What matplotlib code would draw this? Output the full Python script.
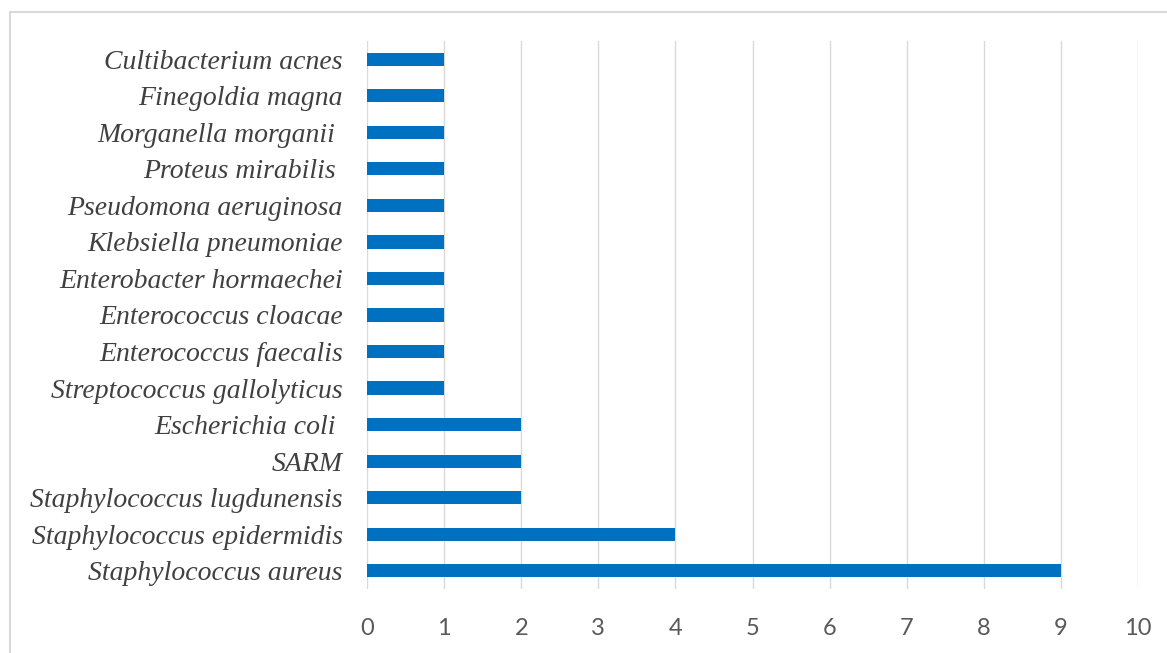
import matplotlib.pyplot as plt
from matplotlib.patches import Rectangle

# microorganisms isolated, bottom to top
species = ["Staphylococcus aureus", "Staphylococcus epidermidis", "Staphylococcus lugdunensis",
           "SARM", "Escherichia coli ", "Streptococcus gallolyticus", "Enterococcus faecalis",
           "Enterococcus cloacae", "Enterobacter hormaechei", "Klebsiella pneumoniae",
           "Pseudomona aeruginosa", "Proteus mirabilis ", "Morganella morganii ",
           "Finegoldia magna", "Cultibacterium acnes"]
counts = [9, 4, 2, 2, 2, 1, 1, 1, 1, 1, 1, 1, 1, 1, 1]
xticks = list(range(0, 11))

fig = plt.figure(figsize=(11.67, 6.53), dpi=100)
ax = fig.add_axes([367 / 1167, 1 - 589 / 653, (1138 - 367) / 1167, (589 - 41) / 653])

ax.barh(range(len(species)), counts, height=0.36, color="#0070C0", zorder=3)
ax.set_ylim(-0.5, len(species) - 0.5)
ax.set_xlim(0, 10)
ax.set_xticks(xticks)
ax.set_yticks(range(len(species)))
ax.set_yticklabels(species, family="Liberation Serif", style="italic", fontsize=20, color="#404040")
ax.tick_params(axis="y", length=0, pad=17.5)
ax.tick_params(axis="x", length=0, pad=21, labelsize=17, labelcolor="#595959")
for lbl in ax.get_xticklabels():
    lbl.set_family("Lato")

ax.grid(axis="x", color="#D9D9D9", linewidth=1.0, zorder=0)
for s in ax.spines.values():
    s.set_visible(False)

# outer frame around the chart area
fig.patches.append(Rectangle((10 / 1167, -0.05), 1.2, 1 - 12 / 653 + 0.05, transform=fig.transFigure,
                             fill=False, edgecolor="#D9D9D9", linewidth=1.5))

fig.savefig("out.png", dpi=100)
